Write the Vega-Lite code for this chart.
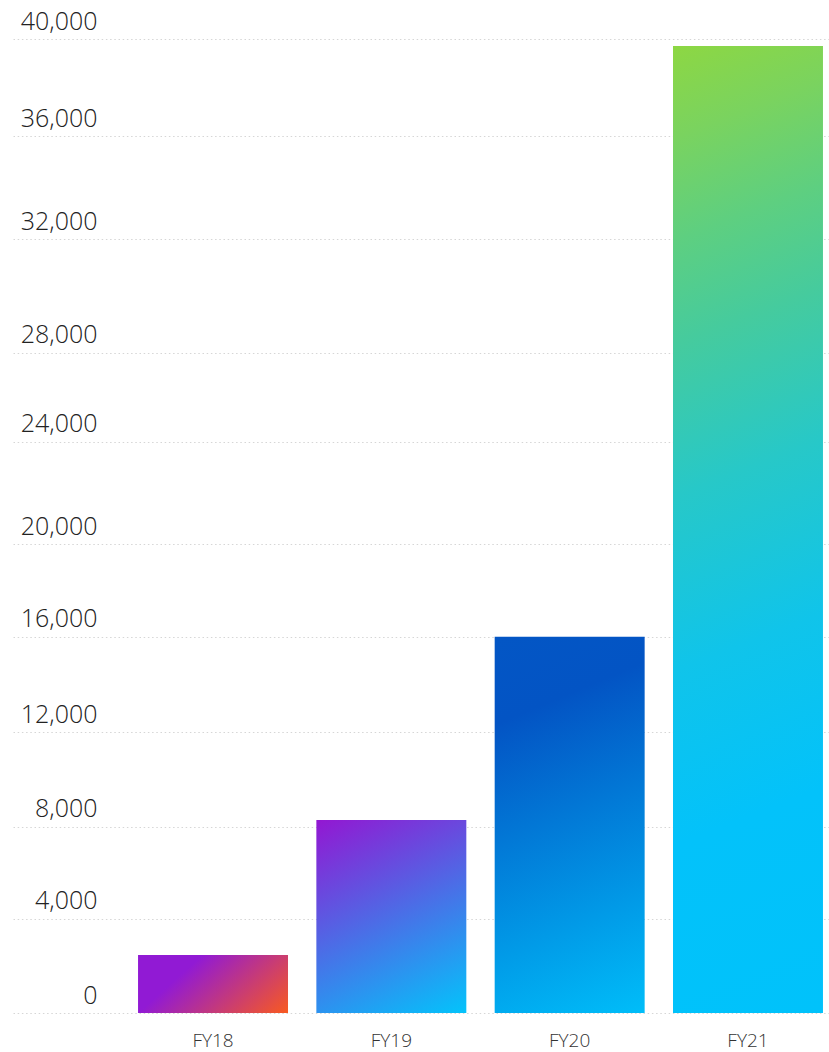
{
  "$schema": "https://vega.github.io/schema/vega-lite/v6.json",
  "width": 816,
  "height": 974,
  "autosize": {"type": "none"},
  "padding": {"left": 13, "top": 39, "right": 0, "bottom": 39},
  "background": "white",
  "config": {"view": {"stroke": null}, "font": "Open Sans"},
  "data": {
    "values": [
      {"year": "FY18", "value": 2455},
      {"year": "FY19", "value": 8284},
      {"year": "FY20", "value": 16000},
      {"year": "FY21", "value": 39711}
    ]
  },
  "encoding": {
    "x": {
      "field": "year",
      "type": "nominal",
      "sort": null,
      "scale": {
        "domain": ["FY18", "FY19", "FY20", "FY21"],
        "paddingInner": 0.159,
        "paddingOuter": 0.3675,
        "align": 0.954
      },
      "axis": {
        "title": null,
        "ticks": false,
        "tickSize": 0,
        "domain": false,
        "grid": false,
        "labelAngle": 0,
        "labelFont": "Open Sans",
        "labelFontSize": 19,
        "labelFontWeight": 300,
        "labelColor": "#333333",
        "labelBaseline": "alphabetic",
        "labelPadding": 33.5
      }
    },
    "y": {
      "field": "value",
      "type": "quantitative",
      "scale": {
        "domain": [0, 4000, 8000, 12000, 16000, 20000, 24000, 28000, 32000, 36000, 40000],
        "range": [974, 879.5, 787.7, 693.3, 597.7, 505, 402.7, 313.7, 200.3, 97, 0],
        "nice": false,
        "zero": false
      },
      "axis": {
        "title": null,
        "values": [0, 4000, 8000, 12000, 16000, 20000, 24000, 28000, 32000, 36000, 40000],
        "format": ",d",
        "grid": true,
        "gridColor": "#d6d6d6",
        "gridDash": [1.5, 2.7],
        "gridWidth": 1,
        "ticks": false,
        "tickSize": 0,
        "domain": false,
        "labelAlign": "right",
        "labelBaseline": "alphabetic",
        "labelPadding": -84,
        "labelOffset": -10,
        "labelFont": "Open Sans",
        "labelFontSize": 25,
        "labelFontWeight": 300,
        "labelColor": "#222222",
        "labelBound": false,
        "labelFlush": false,
        "labelOverlap": false
      }
    }
  },
  "layer": [
    {
      "transform": [{"filter": "datum.year === 'FY18'"}],
      "mark": {
        "type": "bar",
        "fill": {
          "gradient": "linear",
          "x1": 0, "y1": 0, "x2": 1.21, "y2": 0.52,
          "stops": [
            {"offset": 0, "color": "#911AD4"},
            {"offset": 0.3, "color": "#911AD4"},
            {"offset": 1, "color": "#F95A1F"}
          ]
        }
      }
    },
    {
      "transform": [{"filter": "datum.year === 'FY19'"}],
      "mark": {
        "type": "bar",
        "fill": {
          "gradient": "linear",
          "x1": 0, "y1": 0, "x2": 0.48, "y2": 1.21,
          "stops": [
            {"offset": 0, "color": "#9317D2"},
            {"offset": 1, "color": "#03C4FB"}
          ]
        }
      }
    },
    {
      "transform": [{"filter": "datum.year === 'FY20'"}],
      "mark": {
        "type": "bar",
        "fill": {
          "gradient": "linear",
          "x1": 0, "y1": 0, "x2": 0.19, "y2": 1.14,
          "stops": [
            {"offset": 0, "color": "#0356C5"},
            {"offset": 0.2, "color": "#0354C4"},
            {"offset": 1, "color": "#00BEF9"}
          ]
        }
      }
    },
    {
      "transform": [{"filter": "datum.year === 'FY21'"}],
      "mark": {
        "type": "bar",
        "fill": {
          "gradient": "linear",
          "x1": 0, "y1": 0, "x2": 0.063, "y2": 1.056,
          "stops": [
            {"offset": 0, "color": "#8DD743"},
            {"offset": 0.09, "color": "#7AD35F"},
            {"offset": 0.19, "color": "#5ECF80"},
            {"offset": 0.29, "color": "#46CB9D"},
            {"offset": 0.44, "color": "#27C8C8"},
            {"offset": 0.61, "color": "#10C4EA"},
            {"offset": 0.78, "color": "#03C2FA"},
            {"offset": 1, "color": "#00C2FB"}
          ]
        }
      }
    }
  ]
}
